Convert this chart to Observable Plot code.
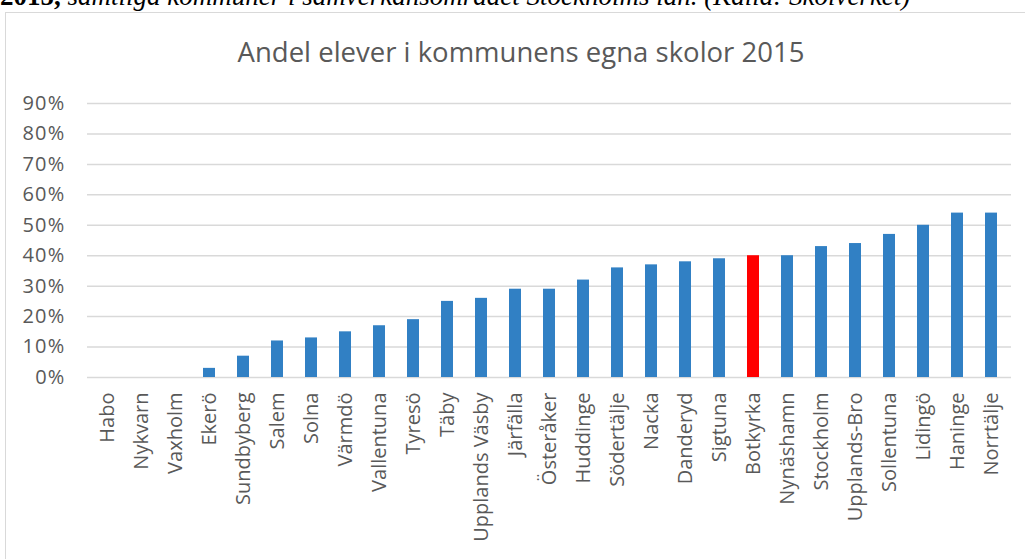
<!DOCTYPE html>
<html>
<head>
<meta charset="utf-8">
<script src="https://cdn.jsdelivr.net/npm/d3@7"></script>
<script src="https://cdn.jsdelivr.net/npm/@observablehq/plot@0.6"></script>
<style>
  html, body { margin: 0; padding: 0; background: #ffffff; width: 1025px; height: 559px; overflow: hidden; }
  #caption { position: absolute; left: 0; top: -19px; font-family: "Liberation Serif", serif; font-size: 27px; line-height: 31px; font-style: italic; color: #000; white-space: nowrap; }
  #caption b { font-style: normal; }
  #frame { position: absolute; left: 5px; top: 12px; width: 1040px; height: 570px; border: 1.5px solid #d9d9d9; box-sizing: border-box; }
  #title { position: absolute; left: 0; width: 1042px; top: 33px; text-align: center; font-family: "Open Sans", sans-serif; font-size: 27.5px; line-height: 37px; color: #595959; white-space: nowrap; }
  #chart { position: absolute; left: 0; top: 0; }
</style>
</head>
<body>
<div id="caption"><b>2015,</b> samtliga kommuner i samverkansområdet Stockholms län. (Källa: Skolverket)</div>
<div id="frame"></div>
<div id="title">Andel elever i kommunens egna skolor 2015</div>
<div id="chart"></div>
<script>
const municipalities = ["Habo", "Nykvarn", "Vaxholm", "Ekerö", "Sundbyberg", "Salem", "Solna", "Värmdö", "Vallentuna", "Tyresö", "Täby", "Upplands Väsby", "Järfälla", "Österåker", "Huddinge", "Södertälje", "Nacka", "Danderyd", "Sigtuna", "Botkyrka", "Nynäshamn", "Stockholm", "Upplands-Bro", "Sollentuna", "Lidingö", "Haninge", "Norrtälje"];
const sharePercent = [0, 0, 0, 3, 7, 12, 13, 15, 17, 19, 25, 26, 29, 29, 32, 36, 37, 38, 39, 40, 40, 43, 44, 47, 50, 54, 54];
const highlighted = "Botkyrka";
const yTickPercent = [0, 10, 20, 30, 40, 50, 60, 70, 80, 90];

const data = municipalities.map((name, i) => ({ name, value: sharePercent[i] / 100 }));
const yTicks = yTickPercent.map(v => v / 100);

const chart = Plot.plot({
  width: 1025,
  height: 559,
  marginLeft: 87,
  marginRight: 14,
  marginTop: 103,
  marginBottom: 182,
  style: { background: "transparent", fontFamily: "Open Sans, sans-serif", fontSize: "20px", color: "#595959", overflow: "visible" },
  x: { domain: municipalities, paddingInner: 0.66, paddingOuter: 0.33, axis: null },
  y: { domain: [0, 0.9], axis: null },
  marks: [
    Plot.ruleY(yTicks, { stroke: "#d9d9d9", strokeWidth: 1.5 }),
    Plot.barY(data, {
      x: "name",
      y: "value",
      fill: d => d.name === highlighted ? "#ff0000" : "#3180c4"
    }),
    Plot.axisY(yTicks, {
      label: null,
      tickSize: 0,
      tickPadding: 22,
      tickFormat: d => Math.round(d * 100) + "%",
      fontSize: 20,
      fill: "#595959"
    }),
    Plot.text(data, {
      x: "name",
      text: "name",
      frameAnchor: "bottom",
      rotate: -90,
      textAnchor: "end",
      lineAnchor: "middle",
      dy: 15,
      fontSize: 20,
      fill: "#595959"
    })
  ]
});
d3.select(chart).selectAll("g[aria-label='y-axis tick label'] text").style("letter-spacing", "1.2px");
document.getElementById("chart").appendChild(chart);
</script>
</body>
</html>
